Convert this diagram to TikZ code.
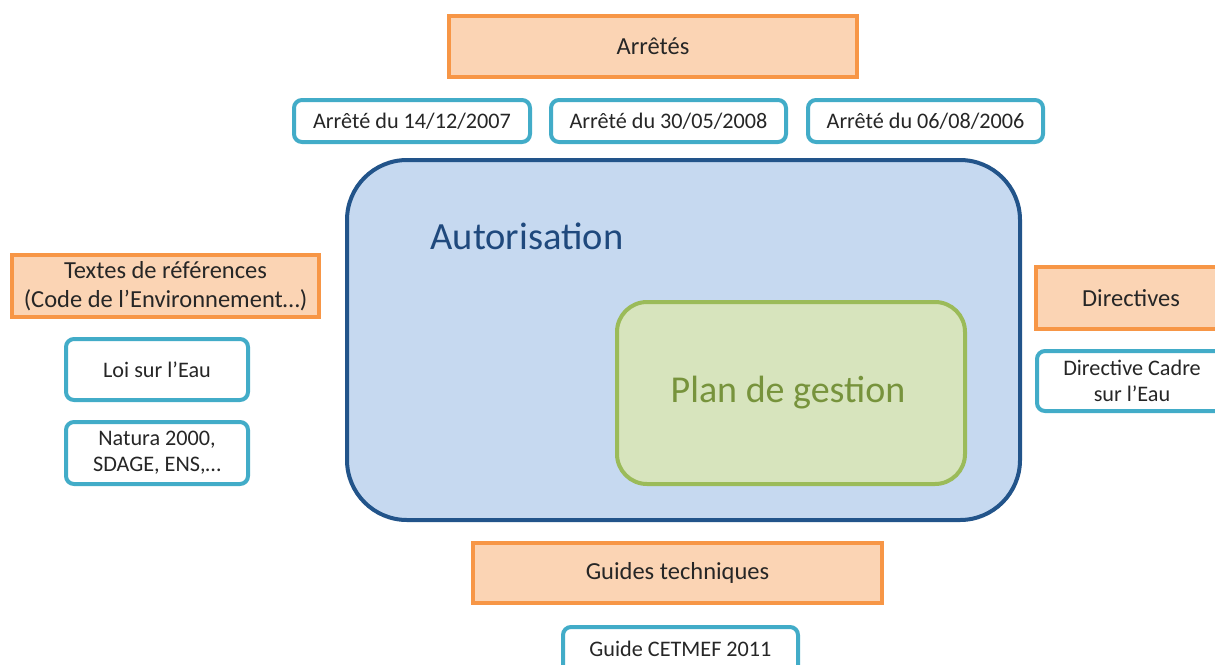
\documentclass[tikz,border=0pt]{standalone}
\usepackage{fontspec}
\setmainfont{Carlito}
\definecolor{orbord}{HTML}{F79646}
\definecolor{orfill}{HTML}{FBD4B4}
\definecolor{teal}{HTML}{42ACC8}
\definecolor{bluefill}{HTML}{C6D9F0}
\definecolor{bluebord}{HTML}{22548A}
\definecolor{bluetext}{HTML}{1F497D}
\definecolor{greenbord}{HTML}{9BBB59}
\definecolor{greenfill}{HTML}{D7E4BD}
\definecolor{greentext}{HTML}{77933C}
\definecolor{txt}{HTML}{262626}
\tikzset{
  cat/.style={draw=orbord, fill=orfill, line width=4pt, inner sep=0pt, align=center, font=\fontsize{24.5}{29}\selectfont, text=txt},
  item/.style={draw=teal, fill=white, line width=4pt, rounded corners=8pt, inner sep=0pt, align=center, font=\fontsize{22.2}{26}\selectfont, text=txt},
}
\begin{document}
\begin{tikzpicture}[x=1pt,y=-1pt]
\useasboundingbox (0,0) rectangle (1215,664);
\clip (0,0) rectangle (1215,664);
% big box
\draw[draw=bluebord, fill=bluefill, line width=4pt, rounded corners=60pt] (347,160) rectangle (1020,520);
\node[text=bluetext, font=\fontsize{38.5}{44}\selectfont, anchor=base] (aut) at (527,249) {Autorisation};
\draw[draw=greenbord, fill=greenfill, line width=4pt, rounded corners=30pt] (617,302) rectangle (965,484);
\node[text=greentext, font=\fontsize{38}{44}\selectfont] (plan) at (788,393) {Plan de gestion};

% categories
\node[cat, minimum width=408pt, minimum height=61pt] (arretes) at (653,46.5) {Arrêtés};
\node[cat, minimum width=307pt, minimum height=62pt] (textes) at (165.5,286) {Textes de références\\(Code de l’Environnement…)};
\node[cat, minimum width=190pt, minimum height=62pt] (directives) at (1131,298) {Directives};
\node[cat, minimum width=409pt, minimum height=60pt] (guides) at (677.5,573) {Guides techniques};

% items
\node[item, minimum width=236pt, minimum height=42pt] (a1) at (412,121) {Arrêté du 14/12/2007};
\node[item, minimum width=235pt, minimum height=42pt] (a2) at (668.5,121) {Arrêté du 30/05/2008};
\node[item, minimum width=235pt, minimum height=42pt] (a3) at (925.5,121) {Arrêté du 06/08/2006};
\node[item, minimum width=182pt, minimum height=61pt] (loi) at (157,369.5) {Loi sur l’Eau};
\node[item, minimum width=182pt, minimum height=62pt] (natura) at (157,453) {Natura 2000,\\SDAGE, ENS,…};
\node[item, minimum width=190pt, minimum height=60pt] (dce) at (1132,381) {Directive Cadre\\sur l’Eau};
\node[item, minimum width=235pt, minimum height=50pt, text depth=0pt] (cetmef) at (680.5,652) {};
\node[font=\fontsize{22.2}{26}\selectfont, text=txt] (cetmeft) at (680.5,649) {Guide CETMEF 2011};
\end{tikzpicture}
\end{document}
